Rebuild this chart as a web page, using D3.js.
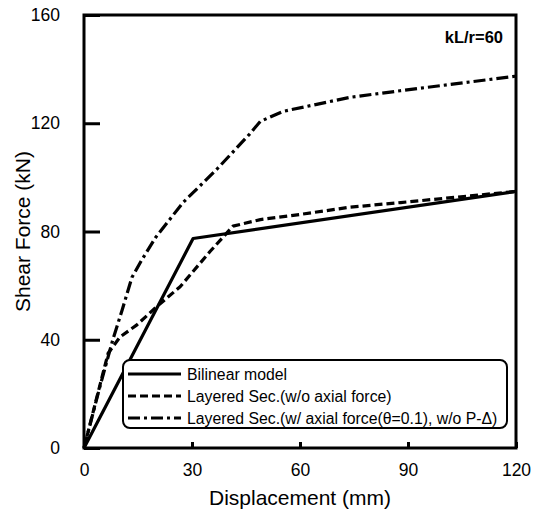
<!DOCTYPE html>
<html>
<head>
<meta charset="utf-8">
<script src="https://cdn.jsdelivr.net/npm/d3@7"></script>
<style>
  body { margin: 0; background: #fff; }
  svg { display: block; font-family: "Liberation Sans", Arial, sans-serif; }
</style>
</head>
<body>
<svg id="chart" width="534" height="516"></svg>
<script>
// ---------------- data ----------------
const xTicks = [0, 30, 60, 90, 120];
const yTicks = [0, 40, 80, 120, 160];

const bilinearX = [0, 30.3, 120];
const bilinearY = [0, 77.4, 94.8];

const layeredX = [0, 4, 6.7, 10, 14.7, 20, 26.7, 35, 41.4, 49, 60, 74, 88, 120];
const layeredY = [0, 21, 35, 41, 45.5, 52, 59.6, 72.6, 82, 84.4, 86.3, 89, 90.7, 94.8];

const axialX = [0, 4.4, 8, 10.6, 13.3, 16.1, 20, 27.5, 36.9, 46, 49, 55.3, 74, 87.8, 120];
const axialY = [0, 22.6, 40, 51, 63, 69.6, 78, 90.7, 103, 116, 120.7, 124.4, 129.6, 132, 137.4];

const seriesNames = [
  "Bilinear model",
  "Layered Sec.(w/o axial force)",
  "Layered Sec.(w/ axial force(\u03B8=0.1), w/o P-\u0394)"
];
const annotation = "kL/r=60";
const xTitle = "Displacement (mm)";
const yTitle = "Shear Force (kN)";

// ---------------- layout ----------------
const svg = d3.select("#chart");
const L = 84, R = 516, T = 15, B = 448;

const x = d3.scaleLinear().domain([0, 120]).range([L, R]);
const y = d3.scaleLinear().domain([0, 160]).range([B, T]);

const series = [
  { name: seriesNames[0], xs: bilinearX, ys: bilinearY, dash: null },
  { name: seriesNames[1], xs: layeredX, ys: layeredY, dash: "8,4" },
  { name: seriesNames[2], xs: axialX, ys: axialY, dash: "12,4,3,4" }
];

const line = d3.line().x(d => x(d[0])).y(d => y(d[1]));

// lines
series.forEach(s => {
  const pts = s.xs.map((v, i) => [v, s.ys[i]]);
  svg.append("path")
    .attr("d", line(pts))
    .attr("fill", "none")
    .attr("stroke", "#000")
    .attr("stroke-width", 3.2)
    .attr("stroke-linejoin", "round")
    .attr("stroke-dasharray", s.dash);
});

// frame
svg.append("rect")
  .attr("x", L).attr("y", T)
  .attr("width", R - L).attr("height", B - T)
  .attr("fill", "none").attr("stroke", "#000").attr("stroke-width", 3);

// axes with inward ticks
const xAxis = d3.axisBottom(x).tickValues(xTicks).tickSizeInner(-6).tickSizeOuter(0).tickPadding(16);
const gx = svg.append("g").attr("transform", `translate(0,${B})`).call(xAxis);
gx.select(".domain").remove();
gx.selectAll(".tick line").attr("stroke", "#000").attr("stroke-width", 3);
gx.selectAll(".tick text").attr("font-size", 17.5).attr("fill", "#000")
  .attr("font-family", "Liberation Sans, Arial, sans-serif");

const yAxis = d3.axisLeft(y).tickValues(yTicks).tickSizeInner(-16).tickSizeOuter(0).tickPadding(24);
const gy = svg.append("g").attr("transform", `translate(${L},0)`).call(yAxis);
gy.select(".domain").remove();
gy.selectAll(".tick line").attr("stroke", "#000").attr("stroke-width", 3);
gy.selectAll(".tick text").attr("font-size", 17.5).attr("fill", "#000")
  .attr("font-family", "Liberation Sans, Arial, sans-serif");

// axis titles
svg.append("text")
  .attr("x", (L + R) / 2).attr("y", 505)
  .attr("text-anchor", "middle")
  .attr("font-size", 21)
  .text(xTitle);

svg.append("text")
  .attr("transform", `translate(30,${(T + B) / 2}) rotate(-90)`)
  .attr("text-anchor", "middle")
  .attr("font-size", 21)
  .text(yTitle);

// annotation
svg.append("text")
  .attr("x", 503).attr("y", 43)
  .attr("text-anchor", "end")
  .attr("font-size", 16.5)
  .attr("font-weight", "bold")
  .text(annotation);

// legend
const lg = svg.append("g");
lg.append("rect")
  .attr("x", 123).attr("y", 360)
  .attr("width", 384).attr("height", 68)
  .attr("rx", 7).attr("ry", 7)
  .attr("fill", "#fff").attr("stroke", "#000").attr("stroke-width", 2);

const rowY = [374, 396, 418];
series.forEach((s, i) => {
  lg.append("line")
    .attr("x1", 128).attr("x2", 181)
    .attr("y1", rowY[i]).attr("y2", rowY[i])
    .attr("stroke", "#000").attr("stroke-width", 3)
    .attr("stroke-dasharray", s.dash);
  lg.append("text")
    .attr("x", 187).attr("y", rowY[i] + 5.5)
    .attr("font-size", 15.8)
    .text(s.name);
});
</script>
</body>
</html>
